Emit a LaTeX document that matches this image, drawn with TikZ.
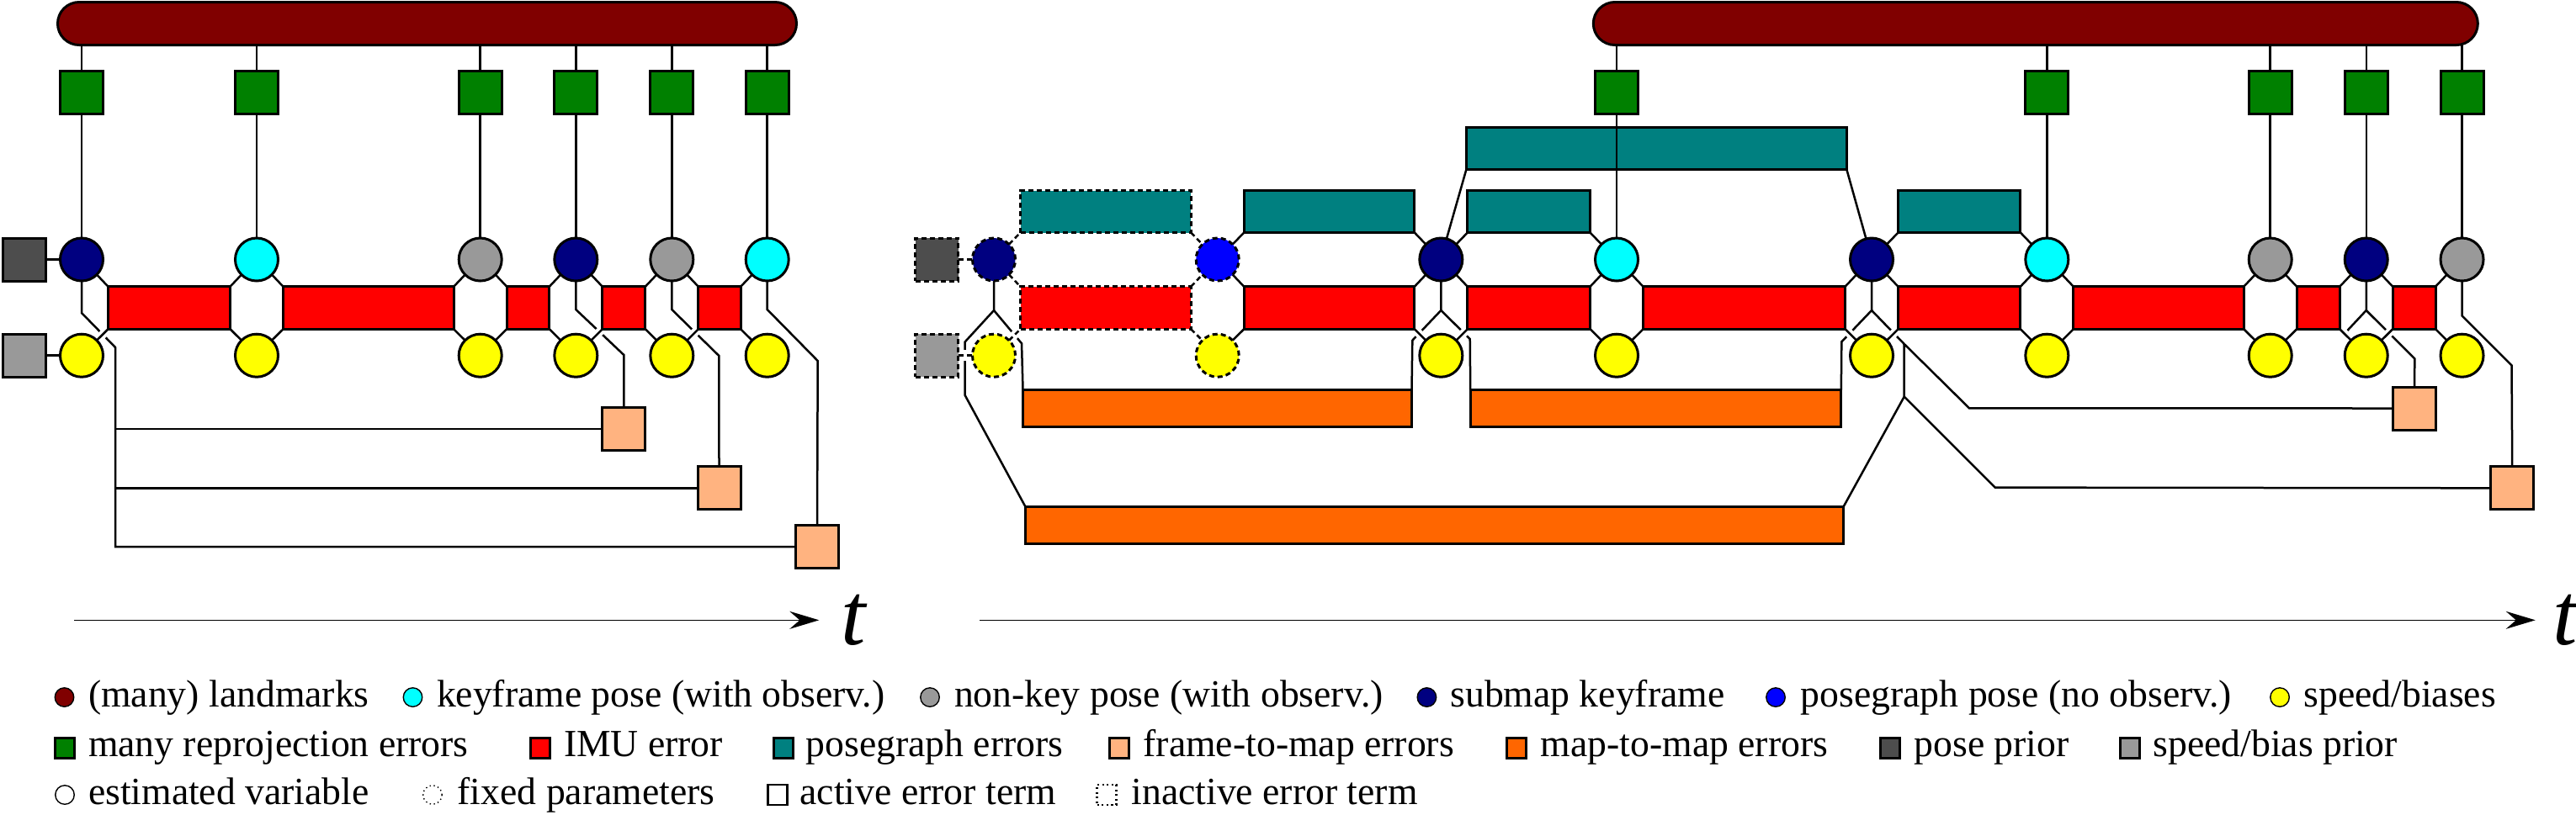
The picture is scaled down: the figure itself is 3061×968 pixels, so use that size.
\documentclass[tikz,border=0pt]{standalone}
\usepackage{fontspec}
\setmainfont{Liberation Serif}
\usetikzlibrary{arrows.meta, backgrounds}

\definecolor{lmkred}{HTML}{800000}
\definecolor{reprgreen}{HTML}{008000}
\definecolor{smnavy}{HTML}{000080}
\definecolor{kfcyan}{HTML}{00FFFF}
\definecolor{nkgray}{HTML}{999999}
\definecolor{sbyellow}{HTML}{FFFF00}
\definecolor{imured}{HTML}{FF0000}
\definecolor{pgteal}{HTML}{008080}
\definecolor{pgblue}{HTML}{0000FF}
\definecolor{ftmorange}{HTML}{FFB380}
\definecolor{mtmorange}{HTML}{FF6600}
\definecolor{ppgray}{HTML}{4D4D4D}
\definecolor{sbpgray}{HTML}{999999}

\begin{document}
\begin{tikzpicture}[x=0.1mm, y=-0.1mm,
		every node/.style={inner sep=0pt, outer sep=0pt},
		var/.style={circle, draw, line width=0.3mm, minimum size=5.1mm},
		fixed/.style={dash pattern=on 0.6mm off 0.4mm},
		errbox/.style={rectangle, draw, line width=0.3mm},
		sq/.style={errbox, minimum width=5.1mm, minimum height=5.1mm},
		imu/.style={errbox, fill=imured, minimum height=5.05mm},
		pg/.style={errbox, fill=pgteal, minimum height=5.0mm},
		mtm/.style={errbox, fill=mtmorange, minimum height=4.4mm},
		lmk/.style={errbox, fill=lmkred, minimum height=5.1mm, rounded corners=2.55mm},
		link/.style={line width=0.25mm},
		bridged/.style={link, preaction={draw, solid, white, line width=1mm}},
		timeax/.style={line width=0.4pt, -{Stealth[length=3.5mm, width=2.1mm, inset=1.2mm]}},
		tlabel/.style={anchor=base west, font=\fontsize{30}{30}\selectfont\itshape},
		legdot/.style={circle, draw, line width=0.4pt, minimum size=2.25mm},
		legsq/.style={rectangle, draw, line width=0.6pt, minimum width=2.3mm, minimum height=2.4mm},
		legtxt/.style={anchor=base west, font=\fontsize{13}{15}\selectfont}]
		\useasboundingbox (0,0) rectangle (3061,968);

		%%%%%%%% LEFT: full problem %%%%%%%%
		% Landmarks and reprojection errors
		\node[lmk, minimum width=87.8mm] (LM) at (507.5,28) {};
		\node[sq, fill=reprgreen] (LG1) at (97,110) {};
		\node[sq, fill=reprgreen] (LG2) at (305,110) {};
		\node[sq, fill=reprgreen] (LG3) at (570.7,110) {};
		\node[sq, fill=reprgreen] (LG4) at (684.3,110) {};
		\node[sq, fill=reprgreen] (LG5) at (798.3,110) {};
		\node[sq, fill=reprgreen] (LG6) at (911.7,110) {};

		% Poses
		\node[var, fill=smnavy] (L1) at (97,308.5) {};
		\node[var, fill=kfcyan] (L2) at (305,308.5) {};
		\node[var, fill=nkgray] (L3) at (570.7,308.5) {};
		\node[var, fill=smnavy] (L4) at (684.3,308.5) {};
		\node[var, fill=nkgray] (L5) at (798.3,308.5) {};
		\node[var, fill=kfcyan] (L6) at (911.7,308.5) {};

		% Speed/biases
		\node[var, fill=sbyellow] (LS1) at (97,422.7) {};
		\node[var, fill=sbyellow] (LS2) at (305,422.7) {};
		\node[var, fill=sbyellow] (LS3) at (570.7,422.7) {};
		\node[var, fill=sbyellow] (LS4) at (684.3,422.7) {};
		\node[var, fill=sbyellow] (LS5) at (798.3,422.7) {};
		\node[var, fill=sbyellow] (LS6) at (911.7,422.7) {};

		% Priors
		\node[sq, fill=ppgray] (LPP) at (29,308.5) {};
		\node[sq, fill=sbpgray] (LSP) at (29,422.7) {};

		% IMU errors
		\node[imu, minimum width=14.5mm] (Li1) at (201,366) {};
		\node[imu, minimum width=20.27mm] (Li2) at (437.85,366) {};
		\node[imu, minimum width=5.06mm] (Li3) at (627.5,366) {};
		\node[imu, minimum width=5.1mm] (Li4) at (741.3,366) {};
		\node[imu, minimum width=5.04mm] (Li5) at (855,366) {};

		% Frame-to-map errors
		\node[sq, fill=ftmorange] (F1) at (741.3,510) {};
		\node[sq, fill=ftmorange] (F2) at (854.5,580.3) {};
		\node[sq, fill=ftmorange] (F3) at (971,650) {};

		%%%%%%%% RIGHT: with posegraph %%%%%%%%
		% Landmarks and reprojection errors
		\node[lmk, minimum width=105.1mm] (RM) at (2418.8,28) {};
		\node[sq, fill=reprgreen] (RG4) at (1921,110) {};
		\node[sq, fill=reprgreen] (RG6) at (2432.3,110) {};
		\node[sq, fill=reprgreen] (RG7) at (2697.7,110) {};
		\node[sq, fill=reprgreen] (RG8) at (2811.7,110) {};
		\node[sq, fill=reprgreen] (RG9) at (2925.5,110) {};

		% Poses
		\node[var, fixed, fill=smnavy] (R1) at (1181,308.5) {};
		\node[var, fixed, fill=pgblue] (R2) at (1446.7,308.5) {};
		\node[var, fill=smnavy] (R3) at (1712.3,308.5) {};
		\node[var, fill=kfcyan] (R4) at (1921,308.5) {};
		\node[var, fill=smnavy] (R5) at (2224,308.5) {};
		\node[var, fill=kfcyan] (R6) at (2432.3,308.5) {};
		\node[var, fill=nkgray] (R7) at (2697.7,308.5) {};
		\node[var, fill=smnavy] (R8) at (2811.7,308.5) {};
		\node[var, fill=nkgray] (R9) at (2925.5,308.5) {};

		% Speed/biases
		\node[var, fixed, fill=sbyellow] (RS1) at (1181,422.7) {};
		\node[var, fixed, fill=sbyellow] (RS2) at (1446.7,422.7) {};
		\node[var, fill=sbyellow] (RS3) at (1712.3,422.7) {};
		\node[var, fill=sbyellow] (RS4) at (1921,422.7) {};
		\node[var, fill=sbyellow] (RS5) at (2224,422.7) {};
		\node[var, fill=sbyellow] (RS6) at (2432.3,422.7) {};
		\node[var, fill=sbyellow] (RS7) at (2697.7,422.7) {};
		\node[var, fill=sbyellow] (RS8) at (2811.7,422.7) {};
		\node[var, fill=sbyellow] (RS9) at (2925.5,422.7) {};

		% Priors (inactive)
		\node[sq, fixed, fill=ppgray] (RPP) at (1113.3,308.5) {};
		\node[sq, fixed, fill=sbpgray] (RSP) at (1113.3,422.7) {};

		% IMU errors
		\node[imu, fixed, minimum width=20.27mm] (Ri1) at (1313.85,366) {};
		\node[imu, minimum width=20.26mm] (Ri2) at (1579.5,366) {};
		\node[imu, minimum width=14.57mm] (Ri3) at (1816.65,366) {};
		\node[imu, minimum width=24mm] (Ri4) at (2072.5,366) {};
		\node[imu, minimum width=14.53mm] (Ri5) at (2328.15,366) {};
		\node[imu, minimum width=20.24mm] (Ri6) at (2565,366) {};
		\node[imu, minimum width=5.1mm] (Ri7) at (2754.7,366) {};
		\node[imu, minimum width=5.08mm] (Ri8) at (2868.6,366) {};

		% Posegraph errors
		\node[pg, fixed, minimum width=20.27mm] (Rp1) at (1313.85,251.5) {};
		\node[pg, minimum width=20.26mm] (Rp2) at (1579.5,251.5) {};
		\node[pg, minimum width=14.57mm] (Rp3) at (1816.65,251.5) {};
		\node[pg, minimum width=14.53mm] (Rp5) at (2328.15,251.5) {};
		\node[pg, minimum width=45.17mm] (Rpb) at (1968.35,176) {};

		% Map-to-map errors
		\node[mtm, minimum width=46.2mm] (Rm1) at (1446.5,485.5) {};
		\node[mtm, minimum width=44.06mm] (Rm2) at (1967.5,485.5) {};
		\node[mtm, minimum width=97.26mm] (Rm3) at (1704.5,624) {};

		% Frame-to-map errors
		\node[sq, fill=ftmorange] (RF1) at (2869,485.5) {};
		\node[sq, fill=ftmorange] (RF2) at (2985.2,580.3) {};

		% Connectors (behind the nodes)
		\begin{pgfonlayer}{background}
			% reprojection
			\draw[link] (LG1.north |- LM.south) -- (LG1.north) (LG1.south) -- (L1.north);
			\draw[link] (LG2.north |- LM.south) -- (LG2.north) (LG2.south) -- (L2.north);
			\draw[link] (LG3.north |- LM.south) -- (LG3.north) (LG3.south) -- (L3.north);
			\draw[link] (LG4.north |- LM.south) -- (LG4.north) (LG4.south) -- (L4.north);
			\draw[link] (LG5.north |- LM.south) -- (LG5.north) (LG5.south) -- (L5.north);
			\draw[link] (LG6.north |- LM.south) -- (LG6.north) (LG6.south) -- (L6.north);
			\draw[link] (RG4.north |- RM.south) -- (RG4.north);
			\draw[link] (RG6.north |- RM.south) -- (RG6.north) (RG6.south) -- (R6.north);
			\draw[link] (RG7.north |- RM.south) -- (RG7.north) (RG7.south) -- (R7.north);
			\draw[link] (RG8.north |- RM.south) -- (RG8.north) (RG8.south) -- (R8.north);
			\draw[link] (RG9.north |- RM.south) -- (RG9.north) (RG9.south) -- (R9.north);

			% frame-to-map, left
			\draw[link] (L1.south) -- ++(0,38) -- ++(40,41) coordinate (L1v) |- (F3.west);
			\draw[link] (L1v |- F1.west) -- (F1.west);
			\draw[link] (L1v |- F2.west) -- (F2.west);
			\draw[link] (L4.south) -- ++(0,34) -- ++(57,54) -- (F1.north);
			\draw[link] (L5.south) -- ++(0,34) -- ++(56,55) -- (F2.north);
			\draw[link] (L6.south) -- ++(0,34) -- ++(60,61) -- (F3.north);

			% map-to-map and frame-to-map, right
			\draw[link] (R1.south) -- ++(0,35) coordinate (R1f) -- ++(-34.3,37.4) -- ++(0,63.6) -- (Rm3.north west);
			\draw[link] (R1f) -- ++(33,39.3) -- (Rm1.north west);
			\draw[link] (R3.south) -- ++(0,35) coordinate (R3f) -- ++(-34,35.7) -- (Rm1.north east);
			\draw[link] (R3f) -- ++(34.4,34) -- (Rm2.north west);
			\draw[link] (R5.south) -- ++(0,35) coordinate (R5f) -- ++(-35.7,37.4) -- (Rm2.north east);
			\draw[link] (R5f) -- ++(38.7,40) coordinate (R5g) -- ++(77.3,76.3) -- (RF1.west);
			\draw[link] (R5g) -- ++(0,62.6) coordinate (R5h) -- (Rm3.north east);
			\draw[link] (R5h) -- ++(108,108) -- (RF2.west);
			\draw[link] (R8.south) -- ++(0,35) coordinate (R8f) -- ++(57.6,57.4) -- (RF1.north);
			\draw[link] (R8f) -- ++(-22.4,24) coordinate (R8s);
			\draw[link] (R9.south) -- ++(0,41.5) -- ++(59,59) -- (RF2.north);

			% posegraph
			\draw[link, fixed] (R1.north east) -- (Rp1.south west) (Rp1.south east) -- (R2.north west);
			\draw[link] (R2.north east) -- (Rp2.south west) (Rp2.south east) -- (R3.north west);
			\draw[link] (R3.north east) -- (Rp3.south west) (Rp3.south east) -- (R4.north west);
			\draw[link] (R5.north east) -- (Rp5.south west) (Rp5.south east) -- (R6.north west);
			\draw[link] (Rpb.south west) -- (R3.75) (Rpb.south east) -- (R5.105);

			% priors
			\draw[link] (LPP.east) -- (L1.west);
			\draw[bridged] (LSP.east) -- (LS1.west);
			\draw[link, fixed] (RPP.east) -- (R1.west);
			\draw[bridged, fixed, preaction={draw, solid, white, line width=1.3mm}] (RSP.east) -- (RS1.west);

			% IMU
			\draw[bridged] (L1.south east) -- (Li1.north west) (Li1.north east) -- (L2.south west) (LS1.north east) -- (Li1.south west) (Li1.south east) -- (LS2.north west);
			\draw[bridged] (L2.south east) -- (Li2.north west) (Li2.north east) -- (L3.south west) (LS2.north east) -- (Li2.south west) (Li2.south east) -- (LS3.north west);
			\draw[bridged] (L3.south east) -- (Li3.north west) (Li3.north east) -- (L4.south west) (LS3.north east) -- (Li3.south west) (Li3.south east) -- (LS4.north west);
			\draw[bridged] (L4.south east) -- (Li4.north west) (Li4.north east) -- (L5.south west) (LS4.north east) -- (Li4.south west) (Li4.south east) -- (LS5.north west);
			\draw[bridged] (L5.south east) -- (Li5.north west) (Li5.north east) -- (L6.south west) (LS5.north east) -- (Li5.south west) (Li5.south east) -- (LS6.north west);
			\draw[bridged, fixed] (R1.south east) -- (Ri1.north west) (Ri1.north east) -- (R2.south west) (RS1.north east) -- (Ri1.south west) (Ri1.south east) -- (RS2.north west);
			\draw[bridged] (R2.south east) -- (Ri2.north west) (Ri2.north east) -- (R3.south west) (RS2.north east) -- (Ri2.south west) (Ri2.south east) -- (RS3.north west);
			\draw[bridged] (R3.south east) -- (Ri3.north west) (Ri3.north east) -- (R4.south west) (RS3.north east) -- (Ri3.south west) (Ri3.south east) -- (RS4.north west);
			\draw[bridged] (R4.south east) -- (Ri4.north west) (Ri4.north east) -- (R5.south west) (RS4.north east) -- (Ri4.south west) (Ri4.south east) -- (RS5.north west);
			\draw[bridged] (R5.south east) -- (Ri5.north west) (Ri5.north east) -- (R6.south west) (RS5.north east) -- (Ri5.south west) (Ri5.south east) -- (RS6.north west);
			\draw[bridged] (R6.south east) -- (Ri6.north west) (Ri6.north east) -- (R7.south west) (RS6.north east) -- (Ri6.south west) (Ri6.south east) -- (RS7.north west);
			\draw[bridged] (R7.south east) -- (Ri7.north west) (Ri7.north east) -- (R8.south west) (RS7.north east) -- (Ri7.south west) (Ri7.south east) -- (RS8.north west);
			\draw[bridged] (R8.south east) -- (Ri8.north west) (Ri8.north east) -- (R9.south west) (RS8.north east) -- (Ri8.south west) (Ri8.south east) -- (RS9.north west);
		\end{pgfonlayer}

		% this one runs over the posegraph error
		\draw[link] (RG4.south) -- (R4.north);

		% Time axes
		\coordinate (TL0) at (88,737.3);
		\coordinate (TL1) at (973.3,737.3);
		\draw[timeax] (TL0) -- (TL1);
		\node[tlabel] (TLt) at (999,766) {t};
		\coordinate (TR0) at (1164,737.3);
		\coordinate (TR1) at (3012.7,737.3);
		\draw[timeax] (TR0) -- (TR1);
		\node[tlabel] (TRt) at (3033,766) {t};

		% Legend, row 1
		\node[legdot, fill=lmkred] (k1) at (76.5,829) {};
		\node[legtxt] (k1t) at (105,840) {(many) landmarks};
		\node[legdot, fill=kfcyan] (k2) at (490.5,829) {};
		\node[legtxt] (k2t) at (519,840) {keyframe pose (with observ.)};
		\node[legdot, fill=nkgray] (k3) at (1105,829) {};
		\node[legtxt] (k3t) at (1134,840) {non-key pose (with observ.)};
		\node[legdot, fill=smnavy] (k4) at (1695.4,829) {};
		\node[legtxt] (k4t) at (1723.4,840) {submap keyframe};
		\node[legdot, fill=pgblue] (k5) at (2110,829) {};
		\node[legtxt] (k5t) at (2139.8,840) {posegraph pose (no observ.)};
		\node[legdot, fill=sbyellow] (k6) at (2709,829) {};
		\node[legtxt] (k6t) at (2737.4,840) {speed/biases};

		% Legend, row 2
		\node[legsq, fill=reprgreen] (e1) at (77,889.5) {};
		\node[legtxt] (e1t) at (105,899.3) {many reprojection errors};
		\node[legsq, fill=imured] (e2) at (642,889.5) {};
		\node[legtxt] (e2t) at (670,899.3) {IMU error};
		\node[legsq, fill=pgteal] (e3) at (931,889.5) {};
		\node[legtxt] (e3t) at (957.6,899.3) {posegraph errors};
		\node[legsq, fill=ftmorange] (e4) at (1330,889.5) {};
		\node[legtxt] (e4t) at (1358.7,899.3) {frame-to-map errors};
		\node[legsq, fill=mtmorange] (e5) at (1802,889.5) {};
		\node[legtxt] (e5t) at (1830.8,899.3) {map-to-map errors};
		\node[legsq, fill=ppgray] (e6) at (2246,889.5) {};
		\node[legtxt] (e6t) at (2274.7,899.3) {pose prior};
		\node[legsq, fill=sbpgray] (e7) at (2531,889.5) {};
		\node[legtxt] (e7t) at (2558.4,899.3) {speed/bias prior};

		% Legend, row 3
		\node[legdot] (s1) at (77,945) {};
		\node[legtxt] (s1t) at (105,956.7) {estimated variable};
		\node[legdot, densely dotted] (s2) at (514,945) {};
		\node[legtxt] (s2t) at (543.7,956.7) {fixed parameters};
		\node[legsq] (s3) at (924,945) {};
		\node[legtxt] (s3t) at (950.6,956.7) {active error term};
		\node[legsq, densely dotted] (s4) at (1315,945) {};
		\node[legtxt] (s4t) at (1344.6,956.7) {inactive error term};
	\end{tikzpicture}
\end{document}
